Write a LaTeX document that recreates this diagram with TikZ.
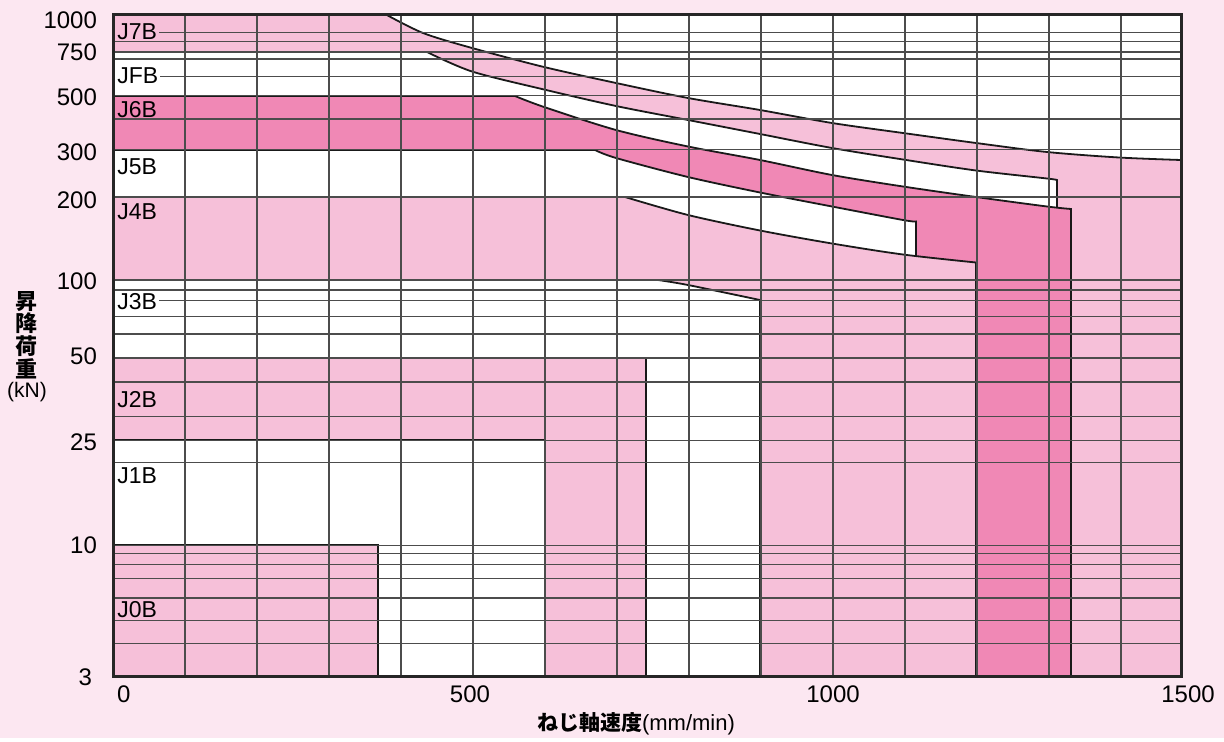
\documentclass[tikz,border=0pt]{standalone}
\usepackage{fontspec}
\setmainfont{Liberation Sans}
\newfontfamily\jpfont{Noto Sans CJK JP}
\definecolor{bgpink}{HTML}{FCE7F1}
\definecolor{lightpink}{HTML}{F6C0D9}
\definecolor{deeppink}{HTML}{F088B5}
\begin{document}
\begin{tikzpicture}[x=0.5pt,y=-0.5pt,
  rim/.style={line width=0.9pt,draw=black!90},
  gridline/.style={line width=0.6pt,black!70},
  model/.style={anchor=west,inner xsep=1pt,inner ysep=0.3pt,font=\fontsize{11.5}{13}\selectfont},
  tick/.style={font=\fontsize{12}{14}\selectfont}]
\fill[bgpink] (0,0) rectangle (1224,738);
\fill[white] (113,14) rectangle (1181,676);

\filldraw[rim,fill=lightpink] (113,676) -- (113,14) -- plot[smooth] coordinates {(385,14) (423,33) (472,48) (544,67) (616,83) (688,98) (760,110) (832,123) (903,133) (976,143) (1047,152) (1119,157.5) (1181,160)} -- (1181,676) -- cycle;
\filldraw[rim,fill=white] (113,676) -- (113,52) -- plot[smooth] coordinates {(427,52) (472,71.5) (544,89.5) (616,106) (688,120) (760,134) (832,148) (903,159.5) (976,170.5) (1047,178.5) (1057,180)} -- (1057,676) -- cycle;
\filldraw[rim,fill=deeppink] (113,676) -- (113,96) -- plot[smooth] coordinates {(515,96) (544,107) (616,130) (688,146.5) (760,160) (832,175) (903,186.5) (976,197) (1047,206.5) (1071,209)} -- (1071,676) -- cycle;
\filldraw[rim,fill=white] (113,676) -- (113,150) -- plot[smooth] coordinates {(595,150) (616,158) (688,177) (760,192.5) (832,206.5) (903,220) (916,221.5)} -- (916,676) -- cycle;
\filldraw[rim,fill=lightpink] (113,676) -- (113,197) -- plot[smooth] coordinates {(625,197) (688,215) (760,230.5) (832,243.5) (903,254.5) (976,262.5)} -- (976,676) -- cycle;
\filldraw[rim,fill=white] (113,676) -- (113,280) -- plot[smooth] coordinates {(658,280) (688,285) (760,300)} -- (760,676) -- cycle;
\filldraw[rim,fill=lightpink] (113,676) -- (113,358) -- (646,358) -- (646,676) -- cycle;
\filldraw[rim,fill=white] (113,676) -- (113,440) -- (545,440) -- (545,676) -- cycle;
\filldraw[rim,fill=lightpink] (113,676) -- (113,545) -- (378,545) -- (378,676) -- cycle;

\foreach \gx in {185,257,...,1121}
  \draw[gridline] (\gx,14) -- (\gx,676);
\foreach \gy in {32.3,41.3,52,59,76.3,95.7,119,149.7,197,280,290,300.7,316.7,334,358,382,416.7,440.3,462.7,545.3,553.3,564.7,578.7,598,620.3,643.7}
  \draw[gridline] (113,\gy) -- (1181,\gy);
\draw[line width=1.5pt,black!85] (113,14) rectangle (1181,676);

\node(j7b) at (115,32)[model,fill=lightpink] {J7B};
\node(jfb) at (115,76)[model,fill=white] {JFB};
\node(j6b) at (115,109.5)[model,fill=deeppink] {J6B};
\node(j5b) at (115,166.5)[model,fill=white] {J5B};
\node(j4b) at (115,211.5)[model,fill=lightpink] {J4B};
\node(j3b) at (115,302)[model,fill=white] {J3B};
\node(j2b) at (115,399.5)[model,fill=lightpink] {J2B};
\node(j1b) at (115,475.5)[model,fill=white] {J1B};
\node(j0b) at (115,609.5)[model,fill=lightpink] {J0B};

\node(y1000) at (104,20)[tick,anchor=east] {1000};
\node(y750) at (104,52)[tick,anchor=east] {750};
\node(y500) at (104,97)[tick,anchor=east] {500};
\node(y300) at (104,152)[tick,anchor=east] {300};
\node(y200) at (104,200)[tick,anchor=east] {200};
\node(y100) at (104,281)[tick,anchor=east] {100};
\node(y50) at (104,356)[tick,anchor=east] {50};
\node(y25) at (104,442)[tick,anchor=east] {25};
\node(y10) at (104,545)[tick,anchor=east] {10};
\node(y3) at (99,677)[tick,anchor=east] {3};

\node(x0) at (110,694)[tick,anchor=west] {0};
\node(x500) at (470,694)[tick] {500};
\node(x1000) at (833,694)[tick] {1000};
\node(x1500) at (1188,694)[tick] {1500};

\node(ytitle) at (26,335)[align=center,inner sep=0pt,font=\jpfont\bfseries\fontsize{11}{11.3}\selectfont] {昇\\降\\荷\\重};
\node(yunit) at (27,392)[font=\fontsize{10.5}{12}\selectfont] {(kN)};
\node(xtitle) at (636,724)[font=\fontsize{11}{13}\selectfont] {{\jpfont\bfseries\fontsize{10.5}{12}\selectfont ねじ軸速度}(mm/min)};
\end{tikzpicture}
\end{document}
